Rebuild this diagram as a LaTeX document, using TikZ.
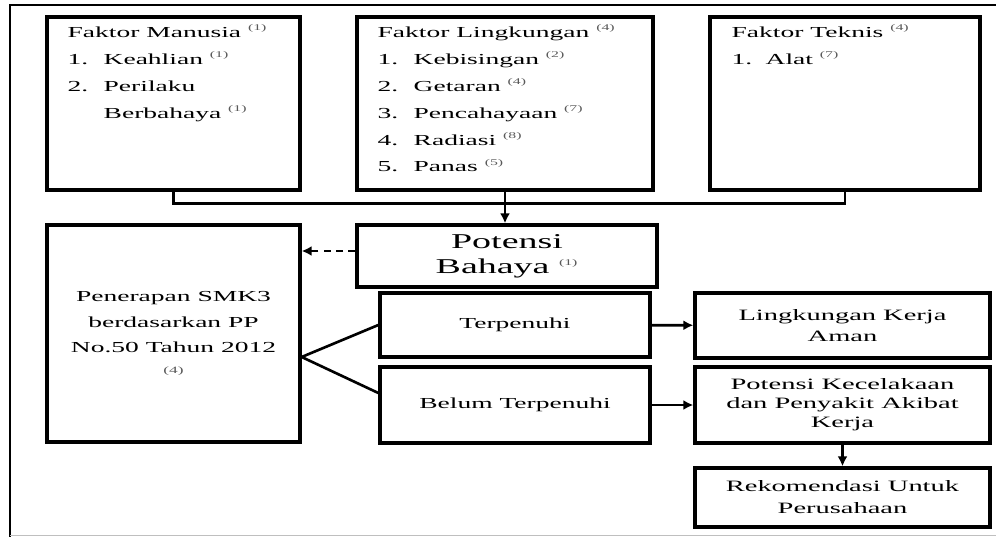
\documentclass[tikz,border=0pt]{standalone}
\usepackage{fontspec}
\setmainfont{Liberation Serif}[FakeStretch=1.8]
\usetikzlibrary{arrows.meta, positioning, calc}
\newcommand{\refnum}[1]{\textsuperscript{\fontsize{5}{5}\selectfont\color{black!65}(#1)}}

\begin{document}
\begin{tikzpicture}[auto,
                    factor_box/.style={rectangle, draw, line width=1.9pt, minimum height=3.46cm},
                    factor_text/.style={anchor=north west, align=left, inner sep=0pt, font=\fontsize{8.7}{15.3}\selectfont},
                    main_box/.style={rectangle, draw, line width=1.9pt, align=center, font=\fontsize{8.7}{14.5}\selectfont},
                    result_box/.style={rectangle, draw, line width=1.9pt, align=center, minimum width=5.9cm, font=\fontsize{9}{11.5}\selectfont},
                    link/.style={line width=1.5pt},
                    arrow/.style={line width=1.5pt, -{Latex[length=2mm, width=2mm]}},
                    ]
    \useasboundingbox (0,0) rectangle (19.92,-10.74);

    % Outer frame
    \draw[line width=1.6pt] (19.92,-0.1) -- (0.2,-0.1) -- (0.2,-10.74);
    \draw[gray!50, line width=0.6pt] (0.2,-10.71) -- (19.92,-10.71);

    % Factors
    \node[factor_box, minimum width=5.06cm] (manusia) at (3.47,-2.07) {};
    \node[factor_box, minimum width=5.92cm] (lingkungan) at (10.1,-2.07) {};
    \node[factor_box, minimum width=5.4cm] (teknis) at (16.9,-2.07) {};

    \node[factor_text] (manusia_text) at ($(manusia.north west)+(0.44,-0.18)$)
        {Faktor Manusia \refnum{1}\\
         \makebox[0.72cm][l]{1.}Keahlian \refnum{1}\\
         \makebox[0.72cm][l]{2.}Perilaku\\
         \hspace*{0.72cm}Berbahaya \refnum{1}};
    \node[factor_text] (lingkungan_text) at ($(lingkungan.north west)+(0.44,-0.18)$)
        {Faktor Lingkungan \refnum{4}\\
         \makebox[0.72cm][l]{1.}Kebisingan \refnum{2}\\
         \makebox[0.72cm][l]{2.}Getaran \refnum{4}\\
         \makebox[0.72cm][l]{3.}Pencahayaan \refnum{7}\\
         \makebox[0.72cm][l]{4.}Radiasi \refnum{8}\\
         \makebox[0.72cm][l]{5.}Panas \refnum{5}};
    \node[factor_text] (teknis_text) at ($(teknis.north west)+(0.46,-0.18)$)
        {Faktor Teknis \refnum{4}\\
         \makebox[0.68cm][l]{1.}Alat \refnum{7}};

    % Potential hazard and SMK3
    \node[main_box, minimum width=6cm, minimum height=1.24cm, font=\fontsize{12}{14.2}\selectfont] (potensi) at (10.14,-5.12) {Potensi\\Bahaya \refnum{1}};
    \node[main_box, minimum width=5.06cm, minimum height=4.34cm] (penerapan) at (3.47,-6.67)
        {Penerapan SMK3\\berdasarkan PP\\No.50 Tahun 2012\\[-3pt]{\fontsize{5.5}{6}\selectfont\color{black!65}(4)}};
    \node[main_box, minimum width=5.4cm, minimum height=1.28cm] (terpenuhi) at (10.3,-6.5) {Terpenuhi};
    \node[main_box, minimum width=5.4cm, minimum height=1.52cm] (belum) at (10.3,-8.1) {Belum Terpenuhi};

    % Results
    \node[result_box, minimum height=1.3cm] (aman) at (16.85,-6.51) {Lingkungan Kerja\\Aman};
    \node[result_box, minimum height=1.52cm, font=\fontsize{9}{10.8}\selectfont] (kecelakaan) at (16.85,-8.1) {Potensi Kecelakaan\\dan Penyakit Akibat\\Kerja};
    \node[result_box, minimum height=1.18cm, font=\fontsize{9}{12.5}\selectfont] (rekomendasi) at (16.85,-9.95) {Rekomendasi Untuk\\Perusahaan};

    % Factors to potential hazard
    \coordinate (bus_left) at ($(manusia.south)+(0,-0.24)$);
    \draw[link] (manusia.south) -- (bus_left) -| (teknis.south);
    \draw[arrow] (lingkungan.south) -- (lingkungan.south |- potensi.north);
    \draw[arrow, dash pattern=on 4pt off 3pt] ([yshift=1mm]potensi.west) -- ([yshift=1mm]potensi.west -| penerapan.east);

    % SMK3 to outcomes
    \coordinate (split) at ($(penerapan.east)+(0,-0.47)$);
    \draw[link] (terpenuhi.west) -- (split) -- ([yshift=0.24cm]belum.west);
    \draw[arrow] (terpenuhi) -- (aman);
    \draw[arrow] (belum) -- (kecelakaan);
    \draw[arrow] (kecelakaan) -- (rekomendasi);

\end{tikzpicture}
\end{document}
